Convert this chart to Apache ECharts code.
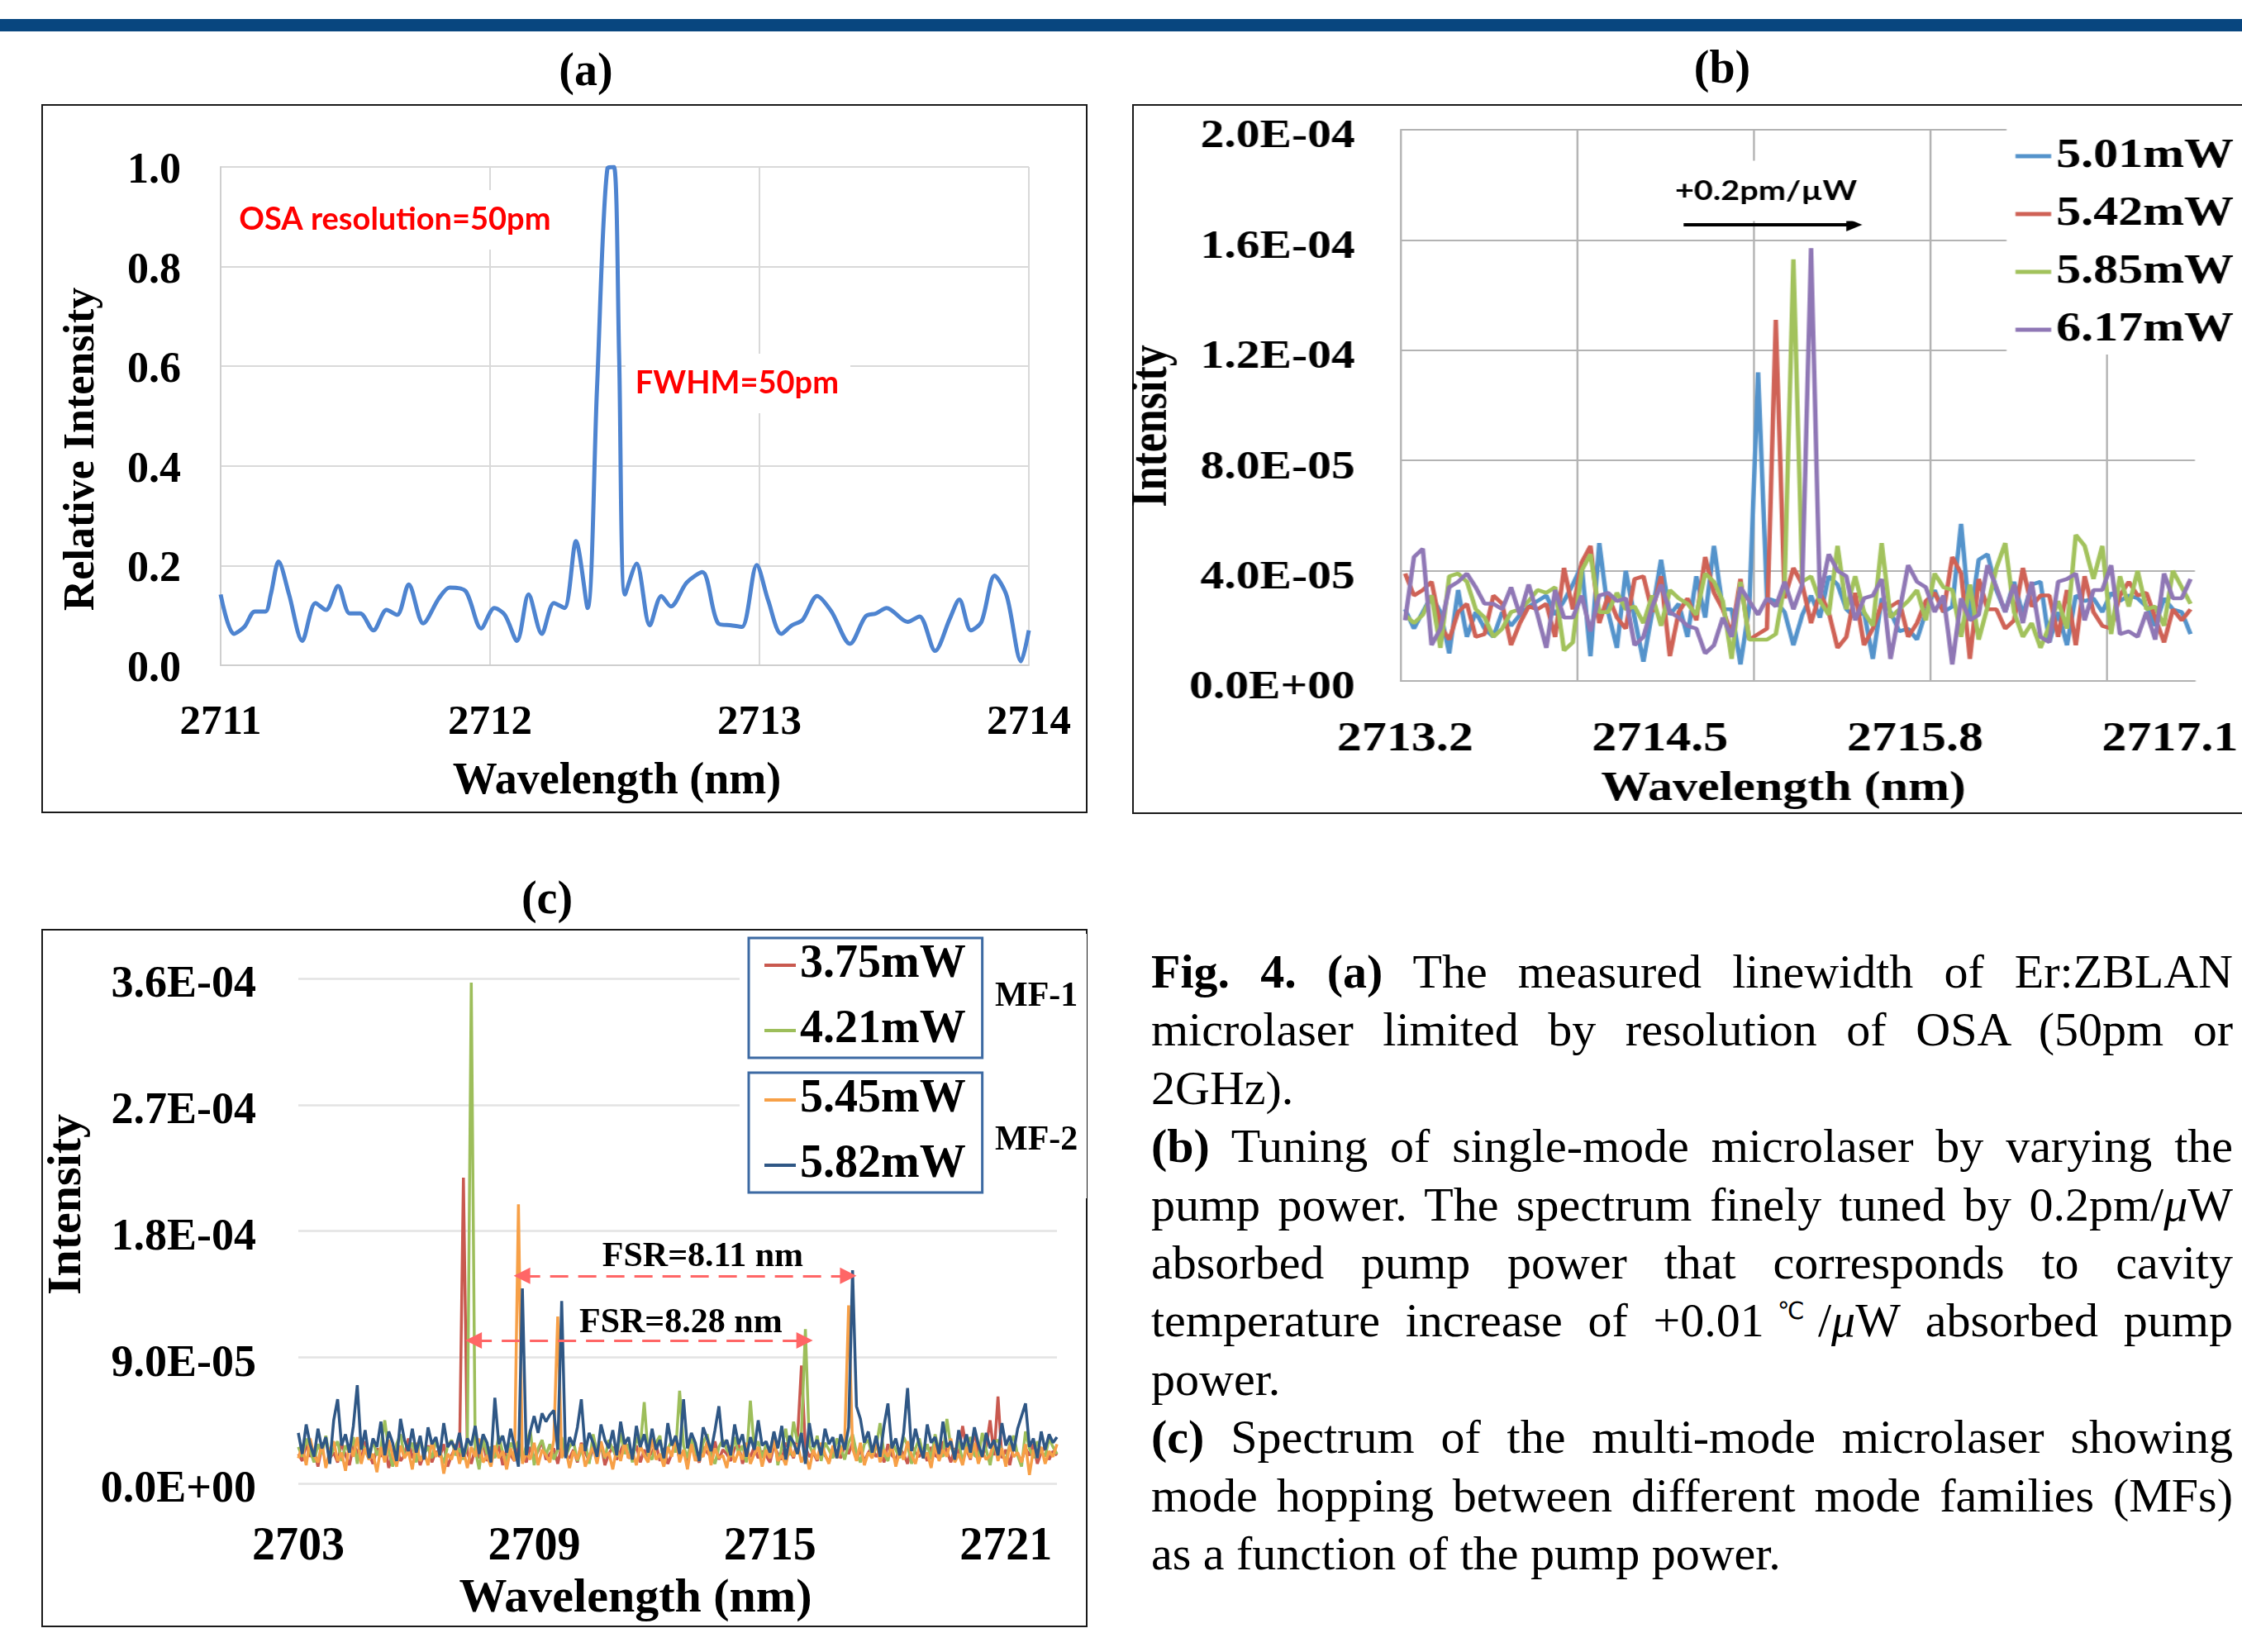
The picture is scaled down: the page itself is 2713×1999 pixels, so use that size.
<!DOCTYPE html>
<html>
<head>
<meta charset="utf-8">
<script src="https://cdn.jsdelivr.net/npm/echarts@6.0.0/dist/echarts.min.js"></script>
<style>
  html, body { margin: 0; padding: 0; background: #fff; }
  body { width: 2713px; height: 1999px; position: relative; overflow: hidden; font-family: 'Liberation Serif', 'Times New Roman', serif; color: #000; }
  .bar { position: absolute; left: 0; top: 23px; width: 2713px; height: 15px; background: #08467f; }
  .ptitle { position: absolute; width: 200px; text-align: center; font-weight: bold; font-size: 56px; line-height: 56px; }
  .box { position: absolute; border: 2px solid #1a1a1a; box-sizing: border-box; }
  .chart { position: absolute; }
  #chartB { transform: scaleX(1.2); transform-origin: 0 0; }
  #caption { position: absolute; left: 1393px; top: 1141px; width: 1309px; font-size: 58px; line-height: 70.4px; }
  #caption div { text-align: justify; text-align-last: justify; }
  #caption div.end { text-align-last: left; }
  .deg { font-family: 'DejaVu Sans', sans-serif; font-size: 0.5em; line-height: 0; position: relative; top: -0.75em; }
</style>
</head>
<body>
<div class="bar"></div>

<div class="ptitle" style="left:609px; top:56px;">(a)</div>
<div class="ptitle" style="left:1984px; top:53px;">(b)</div>
<div class="ptitle" style="left:562px; top:1058px;">(c)</div>

<div class="box" style="left:50px; top:126px; width:1266px; height:858px;"></div>
<div class="box" style="left:1370px; top:126px; width:1400px; height:859px;"></div>
<div class="box" style="left:50px; top:1124px; width:1266px; height:845px;"></div>

<div id="chartA" class="chart" style="left:51px; top:126px; width:1264px; height:857px;"></div>
<div id="chartB" class="chart" style="left:1370px; top:126px; width:1120px; height:858px;"></div>
<div id="chartC" class="chart" style="left:51px; top:1124px; width:1264px; height:844px;"></div>

<div id="caption">
  <div><b>Fig. 4. (a)</b> The measured linewidth of Er:ZBLAN</div>
  <div>microlaser limited by resolution of OSA (50pm or</div>
  <div class="end">2GHz).</div>
  <div><b>(b)</b> Tuning of single-mode microlaser by varying the</div>
  <div>pump power. The spectrum finely tuned by 0.2pm/<i>μ</i>W</div>
  <div>absorbed pump power that corresponds to cavity</div>
  <div>temperature increase of +0.01<span class="deg">℃</span>/<i>μ</i>W absorbed pump</div>
  <div class="end">power.</div>
  <div><b>(c)</b> Spectrum of the multi-mode microlaser showing</div>
  <div>mode hopping between different mode families (MFs)</div>
  <div class="end">as a function of the pump power.</div>
</div>

<script>
// ---------- (a) linewidth ----------
const aWavelength = [
  2711.000, 2711.049, 2711.088, 2711.127, 2711.166, 2711.186, 2711.215, 2711.254, 2711.303, 2711.352,
  2711.391, 2711.436, 2711.479, 2711.518, 2711.567, 2711.616, 2711.655, 2711.698, 2711.752, 2711.811,
  2711.850, 2711.909, 2711.967, 2712.016, 2712.055, 2712.100, 2712.143, 2712.192, 2712.237, 2712.276,
  2712.319, 2712.362, 2712.397, 2712.436, 2712.460, 2712.479, 2712.501, 2712.544, 2712.593, 2712.636,
  2712.671, 2712.730, 2712.788, 2712.847, 2712.896, 2712.935, 2712.990, 2713.033, 2713.081, 2713.120,
  2713.160, 2713.214, 2713.267, 2713.336, 2713.394, 2713.433, 2713.472, 2713.550, 2713.594, 2713.652,
  2713.707, 2713.742, 2713.785, 2713.824, 2713.873, 2713.918, 2713.971, 2714.000
];
const aIntensity = [
  0.142, 0.063, 0.077, 0.108, 0.108, 0.142, 0.208, 0.142, 0.049, 0.125,
  0.111, 0.159, 0.104, 0.104, 0.070, 0.111, 0.101, 0.162, 0.084, 0.135,
  0.156, 0.149, 0.074, 0.115, 0.101, 0.049, 0.142, 0.063, 0.125, 0.115,
  0.249, 0.115, 0.555, 0.998, 1.000, 0.623, 0.142, 0.204, 0.080, 0.139,
  0.118, 0.166, 0.187, 0.084, 0.080, 0.077, 0.201, 0.129, 0.063, 0.080,
  0.091, 0.139, 0.108, 0.043, 0.098, 0.104, 0.115, 0.087, 0.098, 0.029,
  0.094, 0.132, 0.070, 0.087, 0.180, 0.139, 0.008, 0.070
];

// ---------- (b) tuning, values in units of 1E-05 ----------
const bStart = 2713.2;
const bStep = 0.045;
const bAxisMin = 2713.1775;
const bAxisMax = 2717.2275;
const bGridLines = [2713.1775, 2714.0775, 2714.9775, 2715.8775, 2716.7775];
const bTickLabels = [2713.2, 2714.5, 2715.8, 2717.1];
const bNames = ['5.01mW', '5.42mW', '5.85mW', '6.17mW'];
const b501 = [
  2.6, 1.9, 2.5, 3.1, 2.5, 1.0, 3.3, 1.6, 2.5, 1.9,
  1.6, 2.5, 2.0, 2.4, 2.7, 2.9, 3.1, 2.4, 2.9, 3.5,
  4.2, 0.9, 5.0, 2.5, 1.2, 4.0, 2.3, 0.7, 2.5, 4.4,
  2.4, 2.8, 1.6, 3.8, 2.3, 4.9, 2.6, 2.6, 0.6, 2.7,
  11.2, 3.0, 2.9, 2.5, 1.3, 2.4, 3.1, 2.3, 3.8, 3.5,
  2.6, 2.3, 2.5, 0.8, 3.0, 2.5, 1.8, 1.9, 1.5, 2.5,
  3.3, 2.5, 2.7, 5.7, 2.2, 4.4, 4.6, 3.3, 2.5, 3.6,
  2.4, 3.5, 3.6, 1.4, 2.5, 1.3, 3.1, 2.9, 3.0, 2.5,
  3.2, 2.9, 3.1, 3.0, 2.7, 2.0, 3.0, 2.6, 2.5, 1.7
];
const b542 = [
  3.9, 3.1, 3.3, 3.6, 2.0, 1.5, 2.5, 2.8, 1.6, 1.7,
  3.1, 2.8, 1.3, 2.1, 2.7, 2.6, 2.8, 1.6, 4.1, 2.6,
  4.3, 4.9, 2.1, 3.1, 2.3, 1.9, 3.7, 3.8, 2.5, 3.8,
  0.9, 2.5, 3.0, 2.2, 4.5, 3.2, 2.6, 1.7, 3.7, 1.5,
  1.7, 1.9, 13.1, 3.0, 4.1, 3.5, 2.1, 3.2, 2.5, 1.2,
  1.6, 3.2, 1.3, 1.9, 2.8, 2.7, 2.9, 1.6, 2.1, 2.9,
  3.2, 2.5, 4.5, 3.9, 0.8, 3.7, 2.6, 2.6, 1.9, 2.2,
  4.1, 2.7, 3.1, 3.1, 1.6, 3.3, 1.3, 3.8, 2.5, 2.0,
  1.9, 3.1, 3.6, 3.1, 3.2, 2.3, 1.4, 2.6, 2.2, 2.6
];
const b585 = [
  2.4, 2.1, 2.4, 3.1, 1.2, 3.8, 3.9, 3.6, 2.6, 2.3,
  1.6, 1.9, 2.5, 2.6, 2.9, 3.3, 3.2, 3.4, 1.1, 1.4,
  4.0, 4.6, 2.5, 2.5, 3.2, 2.6, 2.7, 2.1, 3.1, 2.0,
  3.3, 3.0, 2.8, 2.4, 3.9, 3.6, 2.9, 0.8, 3.6, 1.5,
  1.5, 1.5, 1.7, 3.5, 15.3, 3.6, 3.8, 2.9, 2.4, 4.9,
  2.6, 3.8, 2.5, 2.0, 5.0, 2.3, 2.6, 2.9, 3.3, 2.2,
  3.9, 3.4, 3.3, 1.6, 3.5, 1.5, 2.7, 4.1, 5.0, 2.5,
  1.6, 2.1, 1.2, 2.0, 2.9, 1.9, 5.3, 4.9, 3.7, 4.9,
  1.7, 3.8, 2.7, 4.0, 2.6, 2.7, 2.0, 4.0, 3.4, 2.8
];
const b617 = [
  2.2, 4.5, 4.8, 1.3, 1.9, 3.4, 3.6, 3.9, 3.4, 2.8,
  2.8, 2.6, 3.4, 2.4, 3.5, 2.4, 1.2, 3.3, 2.3, 2.3,
  3.1, 1.8, 3.1, 3.2, 2.9, 3.0, 1.3, 1.6, 2.7, 3.5,
  2.5, 2.3, 2.0, 1.9, 1.0, 1.3, 2.3, 1.6, 3.4, 2.9,
  2.4, 3.0, 2.7, 3.6, 2.6, 3.5, 15.7, 3.0, 4.6, 4.0,
  3.8, 2.2, 3.0, 3.1, 3.7, 0.8, 2.5, 4.2, 3.6, 3.4,
  2.5, 3.1, 0.6, 3.0, 2.2, 2.4, 4.2, 3.4, 2.5, 3.5,
  2.1, 3.6, 1.6, 1.4, 3.6, 3.7, 3.9, 2.2, 3.3, 3.3,
  4.2, 1.7, 1.8, 1.6, 2.5, 1.5, 3.9, 3.0, 3.0, 3.7
];

// ---------- (c) mode hopping, values in units of 1E-05 ----------
const cStart = 2703.0;
const cStep = 0.1;
const cAxisMax = 2722.3;
const cTickLabels = [2703, 2709, 2715, 2721];
const cNames = ['3.75mW', '4.21mW', '5.45mW', '5.82mW'];
const c375 = [
  2.1, 1.6, 2.8, 1.9, 2.4, 1.2, 2.6, 3.1, 1.8, 2.2,
  1.5, 2.9, 2.0, 1.3, 2.7, 2.3, 1.7, 3.0, 2.1, 1.4,
  2.5, 1.9, 2.8, 1.1, 2.2, 2.6, 1.6, 2.0, 3.2, 1.8,
  2.4, 1.3, 2.1, 2.7, 1.5, 2.3, 1.9, 2.8, 1.2, 2.0,
  2.6, 1.7, 21.8, 2.2, 1.4, 2.5, 1.8, 2.9, 1.6, 2.3,
  1.9, 2.7, 1.3, 2.4, 2.0, 1.6, 2.8, 2.2, 1.5, 2.6,
  1.8, 2.3, 3.0, 1.7, 2.1, 2.5, 1.4, 2.7, 2.0, 1.8,
  2.4, 1.5, 2.9, 2.2, 1.6, 2.5, 1.9, 2.8, 1.3, 2.1,
  2.6, 1.7, 2.3, 3.1, 1.8, 2.0, 2.7, 1.5, 2.4, 1.9,
  2.2, 2.8, 1.6, 2.5, 1.4, 2.1, 2.9, 1.8, 2.3, 1.6,
  2.7, 2.0, 1.5, 2.6, 2.2, 1.9, 3.0, 1.7, 2.4, 2.1,
  1.6, 2.5, 2.8, 1.4, 2.2, 1.9, 2.6, 1.8, 2.3, 2.0,
  1.5, 2.7, 2.1, 1.7, 2.9, 2.4, 1.8, 3.2, 8.4, 2.6,
  1.9, 2.2, 1.6, 2.8, 2.0, 1.5, 2.5, 2.3, 1.8, 2.7,
  2.1, 2.9, 1.7, 2.4, 1.6, 2.2, 2.6, 1.9, 2.3, 1.5,
  2.8, 2.0, 1.7, 2.5, 2.1, 1.4, 2.7, 2.2, 1.9, 2.4,
  1.6, 2.6, 2.0, 1.8, 3.0, 2.3, 1.5, 2.5, 2.1, 4.1,
  2.4, 1.7, 3.8, 2.2, 1.9, 2.6, 4.5, 2.0, 6.2, 1.8,
  2.4, 1.3, 2.7, 2.1, 1.6, 2.5, 2.0, 2.8, 1.4, 2.2,
  2.6, 1.7, 2.3, 2.0
];
const c421 = [
  2.6, 1.9, 3.2, 2.3, 1.5, 2.8, 2.1, 3.4, 1.8, 2.5,
  3.0, 1.6, 2.7, 2.2, 3.3, 1.4, 2.9, 2.4, 1.7, 3.1,
  2.0, 2.6, 4.5, 2.3, 1.2, 2.8, 3.5, 1.9, 2.4, 2.9,
  1.5, 3.2, 2.1, 2.6, 1.8, 3.0, 2.3, 1.4, 2.7, 3.1,
  2.0, 2.5, 1.7, 2.8, 35.7, 2.4, 1.0, 3.2, 2.1, 2.6,
  1.8, 3.4, 2.2, 1.5, 2.9, 2.4, 3.0, 1.6, 2.7, 3.8,
  1.3, 2.5, 3.1, 2.0, 2.8, 1.7, 2.4, 3.3, 1.9, 2.6,
  3.0, 1.6, 2.3, 2.9, 1.4, 3.5, 2.2, 2.7, 1.8, 3.1,
  2.4, 1.9, 3.6, 2.1, 2.8, 1.5, 3.3, 2.6, 5.8, 2.0,
  1.7, 2.9, 3.4, 1.3, 2.5, 3.0, 2.2, 6.6, 2.7, 1.8,
  3.2, 2.3, 1.6, 2.9, 3.5, 2.0, 1.4, 2.6, 3.1, 2.4,
  1.9, 3.3, 2.1, 2.7, 1.5, 5.9, 2.5, 3.0, 1.8, 2.8,
  2.2, 3.6, 1.3, 2.6, 3.9, 2.0, 4.4, 2.9, 3.6, 11.0,
  2.7, 2.1, 3.4, 1.6, 2.9, 2.4, 1.8, 3.2, 2.5, 1.7,
  2.9, 3.5, 2.2, 1.5, 2.8, 3.1, 1.9, 2.6, 4.3, 2.1,
  1.6, 3.0, 2.4, 1.8, 3.3, 2.7, 1.4, 2.5, 3.2, 2.0,
  2.8, 1.7, 3.5, 2.3, 1.9, 4.6, 2.6, 2.1, 3.0, 1.5,
  2.7, 3.3, 2.0, 1.8, 3.6, 2.4, 1.3, 2.9, 3.1, 2.2,
  1.6, 2.8, 3.4, 2.0, 1.2, 3.7, 2.5, 1.8, 3.0, 2.3,
  1.9, 3.2, 2.6, 2.1
];
const c545 = [
  1.8, 2.7, 1.3, 3.2, 2.0, 1.5, 2.9, 1.1, 2.4, 3.0,
  1.6, 2.2, 0.9, 2.8, 1.9, 3.3, 1.4, 2.5, 1.7, 2.1,
  0.8, 2.6, 1.5, 3.1, 2.0, 1.2, 2.7, 1.8, 2.3, 1.0,
  2.9, 1.6, 2.2, 1.3, 3.0, 1.9, 2.5, 0.7, 2.1, 1.7,
  2.8, 1.4, 2.4, 1.1, 2.6, 1.9, 3.2, 1.5, 2.0, 1.2,
  2.7, 1.8, 2.3, 1.0, 2.5, 1.6, 19.9, 1.4, 2.2, 1.7,
  2.9, 1.3, 2.4, 2.0, 1.5, 3.1, 11.9, 1.8, 2.5, 1.1,
  2.3, 1.7, 2.8, 1.2, 2.0, 2.6, 1.4, 3.0, 1.9, 2.2,
  1.0, 2.5, 1.6, 2.9, 1.8, 2.3, 1.3, 2.7, 2.0, 1.5,
  3.2, 1.7, 2.1, 1.2, 2.6, 1.9, 3.4, 1.5, 2.4, 1.0,
  2.8, 1.6, 2.2, 1.9, 3.0, 1.3, 2.5, 1.8, 2.0, 1.1,
  2.7, 1.5, 2.3, 1.7, 2.9, 1.4, 2.1, 2.6, 1.2, 2.4,
  1.8, 3.1, 1.6, 2.0, 1.3, 2.6, 1.9, 2.8, 1.5, 2.2,
  1.0, 2.4, 1.7, 2.9, 2.1, 1.4, 2.7, 1.8, 2.3, 3.0,
  12.7, 2.5, 1.6, 2.9, 1.3, 2.2, 1.8, 3.1, 1.5, 2.4,
  1.9, 2.7, 1.2, 2.3, 1.7, 3.0, 2.0, 1.4, 2.6, 1.8,
  2.2, 1.1, 2.8, 1.6, 2.4, 1.9, 3.2, 1.5, 2.1, 1.3,
  2.6, 1.8, 2.9, 1.4, 2.3, 1.7, 2.0, 3.1, 1.6, 2.5,
  1.2, 2.7, 1.9, 2.2, 1.5, 2.8, 0.6, 2.4, 1.8, 2.6,
  1.4, 2.3, 1.9, 2.8
];
const c582 = [
  3.6, 2.1, 4.2, 2.8, 1.9, 3.9, 2.5, 3.3, 1.4, 4.5,
  6.0, 2.7, 3.5, 2.2, 4.1, 7.0, 2.4, 3.8, 1.8, 3.2,
  2.6, 4.4, 2.0, 3.7, 2.9, 1.6, 4.6, 3.1, 2.3, 3.9,
  2.2, 3.4, 1.7, 4.0, 2.8, 3.3, 2.0, 4.3, 2.6, 3.0,
  2.4, 3.6, 1.9, 3.2, 2.7, 4.1, 2.1, 3.5, 2.9, 1.5,
  6.1, 2.8, 3.4, 2.2, 3.9, 2.6, 1.2, 13.9, 2.0, 3.7,
  4.8, 3.6, 5.0, 4.4, 4.9, 5.2, 2.4, 13.0, 1.8, 3.3,
  2.7, 4.0, 6.0, 2.3, 3.6, 2.9, 1.9, 4.2, 3.1, 2.5,
  3.8, 2.0, 4.4, 2.8, 3.3, 1.7, 4.1, 2.6, 3.5, 2.2,
  3.9, 2.4, 3.1, 1.8, 4.3, 2.7, 3.4, 2.1, 6.0, 2.5,
  3.6, 2.9, 1.6, 4.0, 3.2, 2.3, 3.8, 5.5, 2.6, 3.1,
  2.0, 4.2, 2.8, 3.5, 1.9, 3.3, 2.4, 4.5, 2.7, 3.0,
  2.2, 3.7, 2.5, 4.1, 1.7, 3.4, 2.9, 2.1, 3.6, 1.4,
  4.3, 2.6, 3.1, 2.0, 3.9, 2.8, 3.3, 1.8, 3.5, 2.4,
  4.0, 15.2, 5.5, 4.6, 2.9, 3.7, 2.2, 3.4, 1.9, 4.1,
  5.7, 2.5, 3.2, 2.0, 3.6, 6.8, 2.3, 3.9, 2.7, 1.8,
  4.2, 2.9, 3.3, 2.1, 4.4, 2.6, 3.0, 1.7, 3.8, 2.4,
  3.5, 2.2, 4.0, 2.8, 1.9, 3.6, 2.5, 3.1, 2.0, 4.3,
  2.7, 3.4, 2.3, 3.9, 4.8, 5.7, 2.6, 3.2, 1.8, 3.7,
  2.4, 3.5, 2.9, 3.3
];

const SERIF = "'Liberation Serif','Times New Roman',serif";
const SANS = "Lato,'Open Sans',sans-serif";

function sci(v) {
  if (Math.abs(v) < 1e-12) return '0.0E+00';
  let e = Math.floor(Math.log10(Math.abs(v)) + 1e-9);
  let m = v / Math.pow(10, e);
  if (Math.round(m * 10) >= 100) { m /= 10; e += 1; }
  return m.toFixed(1) + 'E' + (e < 0 ? '-' : '+') + String(Math.abs(e)).padStart(2, '0');
}

function gridPairs(start, step, values, scale) {
  return values.map((v, i) => [+(start + i * step).toFixed(4), v * scale]);
}

function bold(size) {
  return { fontFamily: SERIF, fontWeight: 'bold', fontSize: size, color: '#000' };
}

// y tick labels sit a little low in the original, push them down with a padded rich token
function yLabel(size, margin, drop, fmt) {
  return {
    margin: margin,
    formatter: v => '{t|' + fmt(v) + '}',
    rich: { t: Object.assign({ padding: [drop, 0, 0, 0] }, bold(size)) }
  };
}

// ---------- chart (a) ----------
const chartA = echarts.init(document.getElementById('chartA'));
const aGrid = { color: '#d9d9d9', width: 2 };
chartA.setOption({
  animation: false,
  grid: { left: 216, right: 70, top: 76, bottom: 178, containLabel: false, outerBoundsMode: 'none' },
  xAxis: {
    type: 'value', min: 2711, max: 2714, interval: 1,
    axisLine: { lineStyle: { color: '#cfcfcf', width: 2 } },
    axisTick: { show: false },
    axisLabel: Object.assign({ margin: 44, formatter: v => String(v) }, bold(51)),
    splitLine: { lineStyle: aGrid },
    name: 'Wavelength (nm)', nameLocation: 'middle', nameGap: 114,
    nameTextStyle: Object.assign({ padding: [0, 19, 0, 0] }, bold(54))
  },
  yAxis: {
    type: 'value', min: 0, max: 1, interval: 0.2,
    axisLine: { show: true, lineStyle: { color: '#cfcfcf', width: 2 } },
    axisTick: { show: false },
    axisLabel: yLabel(52, 48, 11, v => v.toFixed(1)),
    splitLine: { lineStyle: aGrid },
    name: 'Relative Intensity', nameLocation: 'middle', nameGap: 141,
    nameTextStyle: Object.assign({ padding: [0, 80, 0, 0] }, bold(52))
  },
  series: [{
    type: 'line',
    data: aWavelength.map((x, i) => [x, aIntensity[i]]),
    smooth: 0.3,
    showSymbol: false,
    lineStyle: { color: '#4e84d0', width: 5 },
    markPoint: {
      silent: true, symbol: 'circle', symbolSize: 1,
      itemStyle: { color: 'rgba(0,0,0,0)' },
      label: {
        show: true, position: 'inside', formatter: '{b}',
        fontFamily: SANS, fontWeight: 'bold', fontSize: 38, color: '#ff0000',
        backgroundColor: '#fff'
      },
      data: [
        { name: 'OSA resolution=50pm', coord: [2711.647, 0.894], label: { padding: [17, 16] } },
        { name: 'FWHM=50pm', coord: [2712.92, 0.5655], label: { padding: [17, 14, 17, 12] } }
      ]
    }
  }]
});

// ---------- chart (b) ----------
const chartB = echarts.init(document.getElementById('chartB'));
const bColors = ['#5493cb', '#cf6256', '#a2c25c', '#8f77b5'];
const bValues = [b501, b542, b585, b617];
const bGridStyle = { color: '#b3b3b3', width: 2 };
const bSeries = bNames.map((name, i) => ({
  type: 'line', name: name,
  data: gridPairs(bStart, bStep, bValues[i], 1e-5),
  showSymbol: false, symbol: 'none',
  lineStyle: { color: bColors[i], width: 4.5 },
  itemStyle: { color: bColors[i] }
}));
bSeries[3].markLine = {
  silent: true, symbol: ['none', 'triangle'], symbolSize: 16,
  label: { show: false },
  lineStyle: { color: '#000', width: 4, type: 'solid' },
  data: [[{ coord: [2714.62, 16.55e-5] }, { coord: [2715.49, 16.55e-5] }]]
};
bSeries[3].markPoint = {
  silent: true, symbol: 'circle', symbolSize: 1,
  itemStyle: { color: 'rgba(0,0,0,0)' },
  label: {
    show: true, position: 'inside', formatter: '{b}',
    fontFamily: SANS, fontWeight: 'bold', fontSize: 33, color: '#000',
    backgroundColor: '#fff', padding: [20, 6]
  },
  data: [{ name: '+0.2pm/\u00b5W', coord: [2715.04, 17.78e-5] }]
};
chartB.setOption({
  animation: false,
  grid: { left: 270.8, right: 48.3, top: 31, bottom: 160, containLabel: false, outerBoundsMode: 'none' },
  legend: {
    data: bNames, orient: 'vertical', left: 881.7, top: 24,
    padding: [14, 40, 5, 9], itemGap: 20, itemWidth: 36, itemHeight: 5,
    icon: 'rect', backgroundColor: '#fff',
    textStyle: bold(50)
  },
  xAxis: {
    type: 'value', min: bAxisMin, max: bAxisMax,
    axisLine: { lineStyle: bGridStyle },
    axisTick: { show: false, customValues: bGridLines },
    axisLabel: Object.assign({ margin: 46, customValues: bTickLabels, formatter: v => v.toFixed(1) }, bold(50)),
    splitLine: { show: true, lineStyle: bGridStyle },
    name: 'Wavelength (nm)', nameLocation: 'middle', nameGap: 106,
    nameTextStyle: Object.assign({ padding: [0, 29, 0, 0] }, bold(50))
  },
  yAxis: {
    type: 'value', min: 0, max: 2e-4, interval: 4e-5,
    axisLine: { show: true, lineStyle: bGridStyle },
    axisTick: { show: false },
    axisLabel: yLabel(48, 46, 18, sci),
    splitLine: { lineStyle: bGridStyle },
    name: 'Intensity', nameLocation: 'middle', nameGap: 190,
    nameTextStyle: Object.assign({ padding: [0, 50, 0, 0] }, bold(52))
  },
  series: bSeries
});

// ---------- chart (c) ----------
const chartC = echarts.init(document.getElementById('chartC'));
const cColors = ['#c9594f', '#9dbe5b', '#f7a047', '#2f5785'];
const cValues = [c375, c421, c545, c582];
const cSeries = cNames.map((name, i) => ({
  type: 'line', name: name,
  data: gridPairs(cStart, cStep, cValues[i], 1e-5),
  showSymbol: false, symbol: 'none',
  lineStyle: { color: cColors[i], width: 3.5 },
  itemStyle: { color: cColors[i] }
}));
cSeries[3].markLine = {
  silent: true, symbol: ['triangle', 'triangle'], symbolSize: 20,
  label: { show: false },
  lineStyle: { color: '#ff6666', width: 3, type: [22, 12] },
  data: [
    [{ coord: [2708.69, 14.8e-5] }, { coord: [2716.99, 14.8e-5] }],
    [{ coord: [2707.46, 10.2e-5] }, { coord: [2715.88, 10.2e-5] }]
  ]
};
cSeries[3].markPoint = {
  silent: true, symbol: 'circle', symbolSize: 1,
  itemStyle: { color: 'rgba(0,0,0,0)' },
  label: { show: true, position: 'inside', formatter: '{b}', fontFamily: SERIF, fontWeight: 'bold', fontSize: 42, color: '#000' },
  data: [
    { name: 'FSR=8.11 nm', coord: [2713.29, 16.14e-5] },
    { name: 'FSR=8.28 nm', coord: [2712.73, 11.45e-5] }
  ]
};
const cLegendBase = {
  orient: 'vertical', left: 855, padding: [5, 20, 5, 19], itemGap: 23,
  itemWidth: 38, itemHeight: 4, icon: 'rect',
  backgroundColor: '#fff', borderColor: '#3d6aa3', borderWidth: 3,
  textStyle: bold(56)
};
chartC.setOption({
  animation: false,
  grid: { left: 310, right: 36, top: 60, bottom: 173, containLabel: false, outerBoundsMode: 'none' },
  legend: [
    Object.assign({ data: cNames.slice(0, 2), top: 11 }, cLegendBase),
    Object.assign({ data: cNames.slice(2, 4), top: 174 }, cLegendBase)
  ],
  graphic: [
    { type: 'rect', left: 844, top: 6, z: 3, silent: true, shape: { width: 420, height: 320 }, style: { fill: '#fff' } },
    { type: 'text', left: 1153, top: 61, z: 5, silent: true, style: { text: 'MF-1', font: "bold 42px 'Liberation Serif', serif", fill: '#000' } },
    { type: 'text', left: 1153, top: 235, z: 5, silent: true, style: { text: 'MF-2', font: "bold 42px 'Liberation Serif', serif", fill: '#000' } }
  ],
  xAxis: {
    type: 'value', min: cStart, max: cAxisMax,
    axisLine: { show: false },
    axisTick: { show: false },
    axisLabel: Object.assign({ margin: 50, customValues: cTickLabels, formatter: v => String(Math.round(v)) }, bold(56)),
    splitLine: { show: false },
    name: 'Wavelength (nm)', nameLocation: 'middle', nameGap: 107,
    nameTextStyle: Object.assign({ padding: [0, 102, 0, 0] }, bold(58))
  },
  yAxis: {
    type: 'value', min: 0, max: 3.6e-4, interval: 9e-5,
    axisLine: { show: false },
    axisTick: { show: false },
    axisLabel: yLabel(54, 51, 17, sci),
    splitLine: { lineStyle: { color: '#e3e3e3', width: 2.5 } },
    name: 'Intensity', nameLocation: 'middle', nameGap: 244,
    nameTextStyle: Object.assign({ padding: [0, 0, 0, 64] }, bold(58))
  },
  series: cSeries
});
</script>
</body>
</html>
